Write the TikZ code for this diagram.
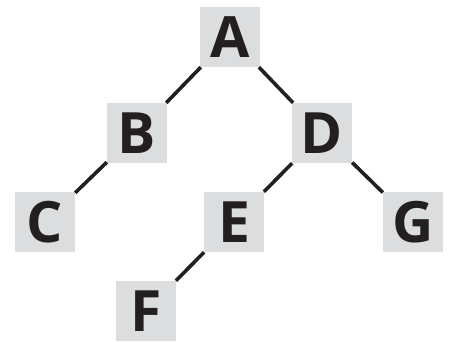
\documentclass[tikz,border=0pt]{standalone}
\usepackage{fontspec}
\setmainfont{Open Sans}
\definecolor{boxgray}{RGB}{220,221,222}
\definecolor{ink}{RGB}{35,31,32}
\begin{document}
\begin{tikzpicture}[x=1pt,y=-1pt,
  tnode/.style={fill=boxgray, minimum width=60pt, minimum height=60pt, inner sep=0pt,
    text=ink, font=\fontsize{57}{57}\selectfont\bfseries},
  tedge/.style={draw=ink, line width=3.6pt}]
\useasboundingbox (0,0) rectangle (451,341);
\node[tnode] (A) at (230,37) {A};
\node[tnode] (B) at (137,133) {B};
\node[tnode] (D) at (322,133) {D};
\node[tnode] (C) at (45,222) {C};
\node[tnode] (E) at (234,222) {E};
\node[tnode] (G) at (413,222) {G};
\node[tnode] (F) at (146,311) {F};
\path[tedge] (A) -- (B);
\path[tedge] (A) -- (D);
\path[tedge] (B) -- (C);
\path[tedge] (D) -- (E);
\path[tedge] (D) -- (G);
\path[tedge] (E) -- (F);
\end{tikzpicture}
\end{document}
